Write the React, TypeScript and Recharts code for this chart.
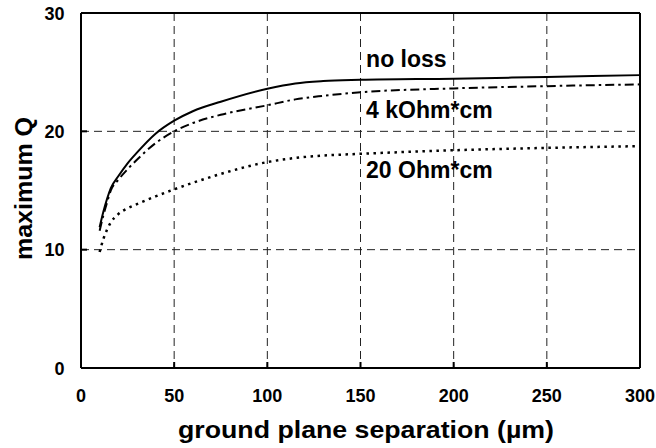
import React from 'react';
import { LineChart, Line, XAxis, YAxis, CartesianGrid, ReferenceLine, ReferenceDot, Label } from 'recharts';

// ground plane separation (µm)
const separation = [10, 12, 14, 16, 20, 25, 30, 40, 50, 60, 75, 100, 115, 130, 150, 200, 250, 300];
// maximum Q, no loss
const qNoLoss = [11.9, 13.2, 14.3, 15.2, 16.2, 17.3, 18.2, 19.8, 20.9, 21.7, 22.5, 23.6, 24.05, 24.25, 24.35, 24.45, 24.6, 24.75];
// maximum Q, 4 kOhm*cm
const q4kOhm = [11.6, 12.9, 14.0, 15.0, 15.9, 16.8, 17.6, 19.0, 20.0, 20.7, 21.4, 22.2, 22.7, 23.0, 23.3, 23.63, 23.82, 23.97];
// maximum Q, 20 Ohm*cm
const q20Ohm = [9.8, 10.9, 11.7, 12.3, 13.0, 13.5, 13.85, 14.5, 15.1, 15.65, 16.4, 17.4, 17.75, 17.95, 18.1, 18.4, 18.6, 18.75];

const xTicks = [0, 50, 100, 150, 200, 250, 300];
const yTicks = [0, 10, 20, 30];

const curveLabels = ['no loss', '4 kOhm*cm', '20 Ohm*cm'];
const labelX = [153, 153, 153];
const labelY = [25.46, 21.13, 16.06];

const data = separation.map((s, i) => ({ s, noLoss: qNoLoss[i], k4: q4kOhm[i], o20: q20Ohm[i] }));

const FONT = "'Liberation Sans', Arial, Helvetica, sans-serif";

const XTick = (props: any) => {
  const { x, y, payload } = props;
  return (
    <text x={x} y={y + 34} textAnchor="middle" fontFamily={FONT} fontWeight="bold" fontSize={18} fill="#000">
      {payload.value}
    </text>
  );
};

const YTick = (props: any) => {
  const { x, y, payload } = props;
  return (
    <text x={x - 16.5} y={y + 6.5} textAnchor="end" fontFamily={FONT} fontWeight="bold" fontSize={18} fill="#000">
      {payload.value}
    </text>
  );
};

const XTitle = (props: any) => {
  const vb = props.viewBox;
  return (
    <text
      x={vb.x + vb.width / 2 + 5.5}
      y={vb.y + 70}
      textAnchor="middle"
      fontFamily={FONT}
      fontWeight="bold"
      fontSize={24}
      fill="#000"
      textLength={376}
      lengthAdjust="spacingAndGlyphs"
    >
      ground plane separation (µm)
    </text>
  );
};

const YTitle = (props: any) => {
  const vb = props.viewBox;
  const cx = 31.5;
  const cy = vb.y + vb.height / 2 - 2;
  return (
    <text
      x={cx}
      y={cy}
      transform={`rotate(-90 ${cx} ${cy})`}
      textAnchor="middle"
      fontFamily={FONT}
      fontWeight="bold"
      fontSize={24}
      fill="#000"
      textLength={143}
      lengthAdjust="spacingAndGlyphs"
    >
      maximum Q
    </text>
  );
};

export default function App() {
  return (
    <div style={{ position: 'absolute', left: 0, top: 0, width: 656, height: 448 }}>
      <LineChart width={656} height={448} data={data} margin={{ top: 13, right: 16, left: 0, bottom: 0 }}>
        <CartesianGrid stroke="#222" strokeWidth={1} strokeDasharray="8 5" />
        <XAxis
          type="number"
          dataKey="s"
          domain={[0, 300]}
          ticks={xTicks}
          height={80}
          axisLine={{ stroke: '#000', strokeWidth: 2 }}
          tickLine={{ stroke: '#000', strokeWidth: 2 }}
          tickSize={-6}
          tickMargin={6}
          tick={<XTick />}
          interval={0}
        >
          <Label content={<XTitle />} />
        </XAxis>
        <YAxis
          type="number"
          domain={[0, 30]}
          ticks={yTicks}
          width={81}
          axisLine={{ stroke: '#000', strokeWidth: 2 }}
          tickLine={{ stroke: '#000', strokeWidth: 2 }}
          tickSize={-6}
          tickMargin={6}
          tick={<YTick />}
          interval={0}
        >
          <Label content={<YTitle />} />
        </YAxis>
        <ReferenceLine x={300} stroke="#000" strokeWidth={2} />
        <ReferenceLine y={30} stroke="#000" strokeWidth={2} />
        <Line type="monotone" dataKey="noLoss" stroke="#000" strokeWidth={2} dot={false} isAnimationActive={false} />
        <Line type="monotone" dataKey="k4" stroke="#000" strokeWidth={2} strokeDasharray="9 4 2.5 4" dot={false} isAnimationActive={false} />
        <Line type="monotone" dataKey="o20" stroke="#000" strokeWidth={2.5} strokeDasharray="2.5 4.5" dot={false} isAnimationActive={false} />
        {curveLabels.map((t, i) => (
          <ReferenceDot
            key={t}
            x={labelX[i]}
            y={labelY[i]}
            r={0}
            fill="none"
            stroke="none"
            shape={(p: any) => (
              <text x={p.cx} y={p.cy} textAnchor="start" fontFamily={FONT} fontWeight="bold" fontSize={23} fill="#000">
                {t}
              </text>
            )}
          />
        ))}
      </LineChart>
    </div>
  );
}
